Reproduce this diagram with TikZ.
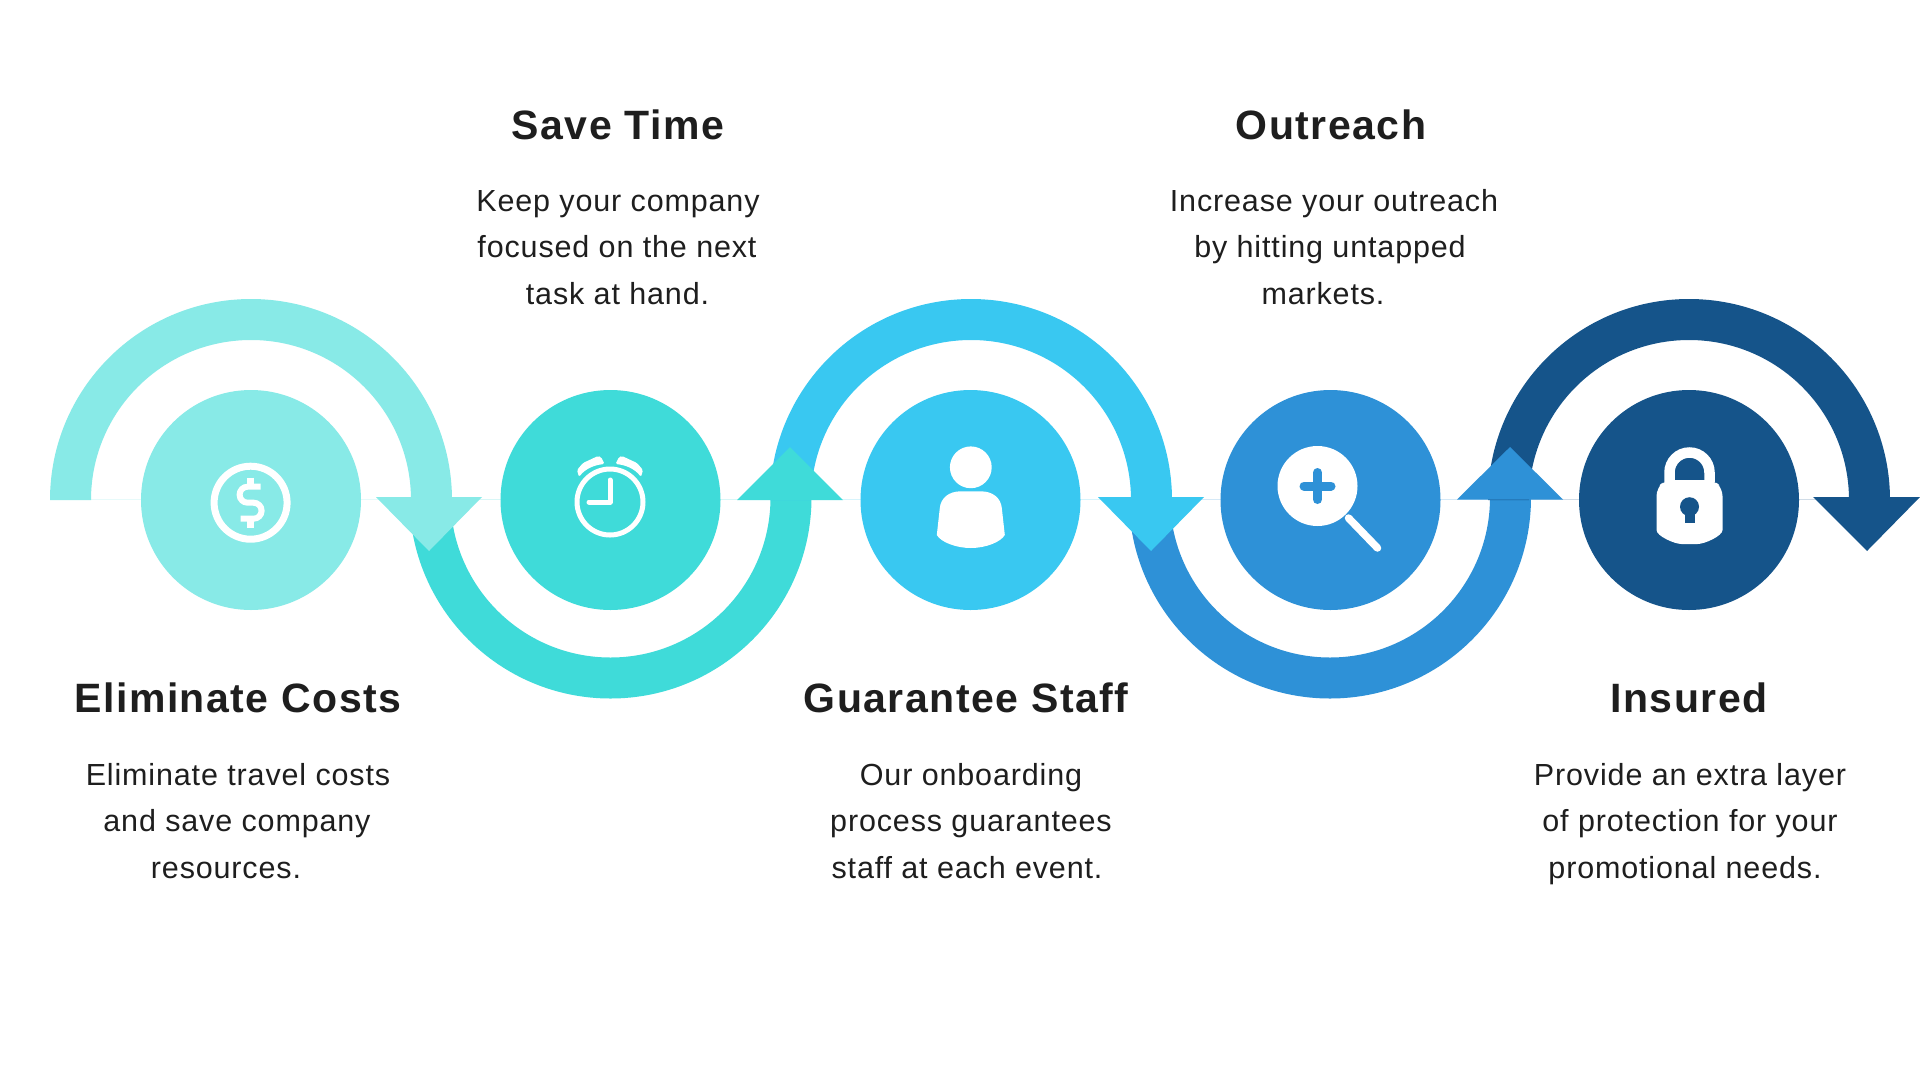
\documentclass[tikz,border=0pt]{standalone}
\usepackage{fontspec}
\setmainfont{Liberation Sans}
\newfontfamily\headfont[LetterSpace=3.6]{Liberation Sans}
\newfontfamily\bodyfont[LetterSpace=2.8]{Liberation Sans}
\definecolor{cA}{HTML}{88EAE7}
\definecolor{cB}{HTML}{3FDBD9}
\definecolor{cC}{HTML}{39C8F1}
\definecolor{cD}{HTML}{2E91D7}
\definecolor{cE}{HTML}{15548A}
\definecolor{ink}{HTML}{1E1E1E}
\tikzset{
  disc/.style={circle,minimum size=220pt,inner sep=0pt,draw=none},
  head/.style={text=ink,font=\headfont\fontsize{41}{46}\selectfont\bfseries,anchor=base,inner sep=0pt},
  body/.style={text=ink,font=\bodyfont\fontsize{30.5}{46.5}\selectfont,anchor=base,inner sep=0pt},
  chord/.style={line width=1pt,opacity=.2}
}
\begin{document}
\begin{tikzpicture}[x=1pt,y=-1pt]
\useasboundingbox (0,0) rectangle (1920,1080);
\fill[white] (0,0) rectangle (1920,1080);
% faint chords
\draw[chord,cA] (91,499) -- (410,499);
\draw[chord,cB] (451,499) -- (770,499);
\draw[chord,cC] (810,499) -- (1130,499);
\draw[chord,cD] (1171,499) -- (1490,499);
\draw[chord,cE] (1530,499) -- (1849,499);
% lower bands
\fill[cB] (409.5,497.5) arc[start angle=180,end angle=0,radius=201] -- (770.5,497.5) arc[start angle=0,end angle=180,radius=160] -- cycle;
\fill[cD] (1129,497.5) arc[start angle=180,end angle=0,radius=201] -- (1490,497.5) arc[start angle=0,end angle=180,radius=160] -- cycle;
% upper bands
\fill[cA] (50,500) arc[start angle=180,end angle=360,radius=201] -- (411,500) arc[start angle=360,end angle=180,radius=160] -- cycle;
\fill[cC] (770,500) arc[start angle=180,end angle=360,radius=201] -- (1131,500) arc[start angle=360,end angle=180,radius=160] -- cycle;
\fill[cE] (1488,500) arc[start angle=180,end angle=360,radius=201] -- (1849,500) arc[start angle=360,end angle=180,radius=160] -- cycle;
% arrow heads
\fill[cA] (376,497) -- (482,497) -- (429,551) -- cycle;
\fill[cB] (737,500) -- (843,500) -- (790,447) -- cycle;
\fill[cC] (1098,497) -- (1204,497) -- (1151,551) -- cycle;
\fill[cD] (1457,499.5) -- (1563,499.5) -- (1510,447) -- cycle;
\fill[cE] (1813,497) -- (1920,497) -- (1867,551) -- cycle;
% discs
\node[disc,fill=cA] (d1) at (251,500) {};
\node[disc,fill=cB] (d2) at (610.5,500) {};
\node[disc,fill=cC] (d3) at (970.5,500) {};
\node[disc,fill=cD] (d4) at (1330.5,500) {};
\node[disc,fill=cE] (d5) at (1689,500) {};
% dollar
\begin{scope}[shift={(250.6,502.7)}]
\draw[white,line width=7pt] (0,0) circle[radius=36.5];
\draw[white,line width=6pt] (10,-16) -- (-3,-16) arc[start angle=270,end angle=90,radius=8] -- (3,0) arc[start angle=-90,end angle=90,radius=8] -- (-10,16);
\draw[white,line width=7pt] (0,-25) -- (0,-16) (0,16) -- (0,25);
\end{scope}
% clock
\begin{scope}[shift={(610,502)}]
\draw[white,line width=5pt] (0,0) circle[radius=33];
\draw[white,line width=5pt,line cap=round,line join=round] (0,-22) -- (0,0) -- (-21,0);
\fill[white,rounded corners=1.5pt] (-31,-25) -- (-33,-32) -- (-27,-39) -- (-12,-46) -- (-9,-45) -- (-5.5,-38) .. controls (-16,-37) and (-25,-33) .. (-31,-25) -- cycle;
\fill[white,rounded corners=1.5pt] (31,-25) -- (33,-32) -- (27,-39) -- (12,-46) -- (9,-45) -- (5.5,-38) .. controls (16,-37) and (25,-33) .. (31,-25) -- cycle;
\end{scope}
% person
\begin{scope}[shift={(970.8,500)}]
\fill[white] (0,-32.7) circle[radius=20.9];
\fill[white] (34,35) -- (31,8) .. controls (30,-2) and (22,-8.7) .. (10,-8.7) -- (-10,-8.7) .. controls (-22,-8.7) and (-30,-2) .. (-31,8) -- (-34,35) .. controls (-30,42) and (-15,48) .. (0,48) .. controls (15,48) and (30,42) .. (34,35) -- cycle;
\end{scope}
% magnifier
\begin{scope}[shift={(1317.5,486)}]
\fill[white] (0,0) circle[radius=40];
\draw[cD,line width=9pt,line cap=round] (-13.5,0) -- (13.5,0) (0,-13.5) -- (0,13.5);
\draw[white,line width=7.5pt,line cap=round] (31,32) -- (60,62);
\end{scope}
% padlock
\begin{scope}[shift={(1689.5,500)}]
\draw[white,line width=10.5pt] (-20,-18) -- (-20,-27.5) arc[start angle=180,end angle=360,radius=20] -- (20,-18);
\fill[white,rounded corners=8pt] (-33,-12) -- (-24,-20) -- (24,-20) -- (33,-12) -- (33,22) .. controls (33,36) and (15,44) .. (0,44) .. controls (-15,44) and (-33,36) .. (-33,22) -- cycle;
\fill[cE] (0,6.7) circle[radius=9.5];
\fill[cE] (-5,8) rectangle (5,23);
\end{scope}
% text
\node[head] (t1) at (238,712.7) {Eliminate Costs};
\node[body] (t1a) at (238,785) {Eliminate travel costs};
\node[body] (t1b) at (237,831.5) {and save company};
\node[body] (t1c) at (226,878) {resources.};
\node[head] (t2) at (618,139) {Save Time};
\node[body] (t2a) at (618,211) {Keep your company};
\node[body] (t2b) at (617,257.5) {focused on the next};
\node[body] (t2c) at (617.5,304) {task at hand.};
\node[head] (t3) at (966,712.7) {Guarantee Staff};
\node[body] (t3a) at (971,785) {Our onboarding};
\node[body] (t3b) at (971,831.5) {process guarantees};
\node[body] (t3c) at (967,878) {staff at each event.};
\node[head] (t4) at (1331,139) {Outreach};
\node[body] (t4a) at (1334,211) {Increase your outreach};
\node[body] (t4b) at (1330,257.5) {by hitting untapped};
\node[body] (t4c) at (1323,304) {markets.};
\node[head] (t5) at (1689,712.7) {Insured};
\node[body] (t5a) at (1690,785) {Provide an extra layer};
\node[body] (t5b) at (1690,831.5) {of protection for your};
\node[body] (t5c) at (1685,878) {promotional needs.};
\end{tikzpicture}
\end{document}
